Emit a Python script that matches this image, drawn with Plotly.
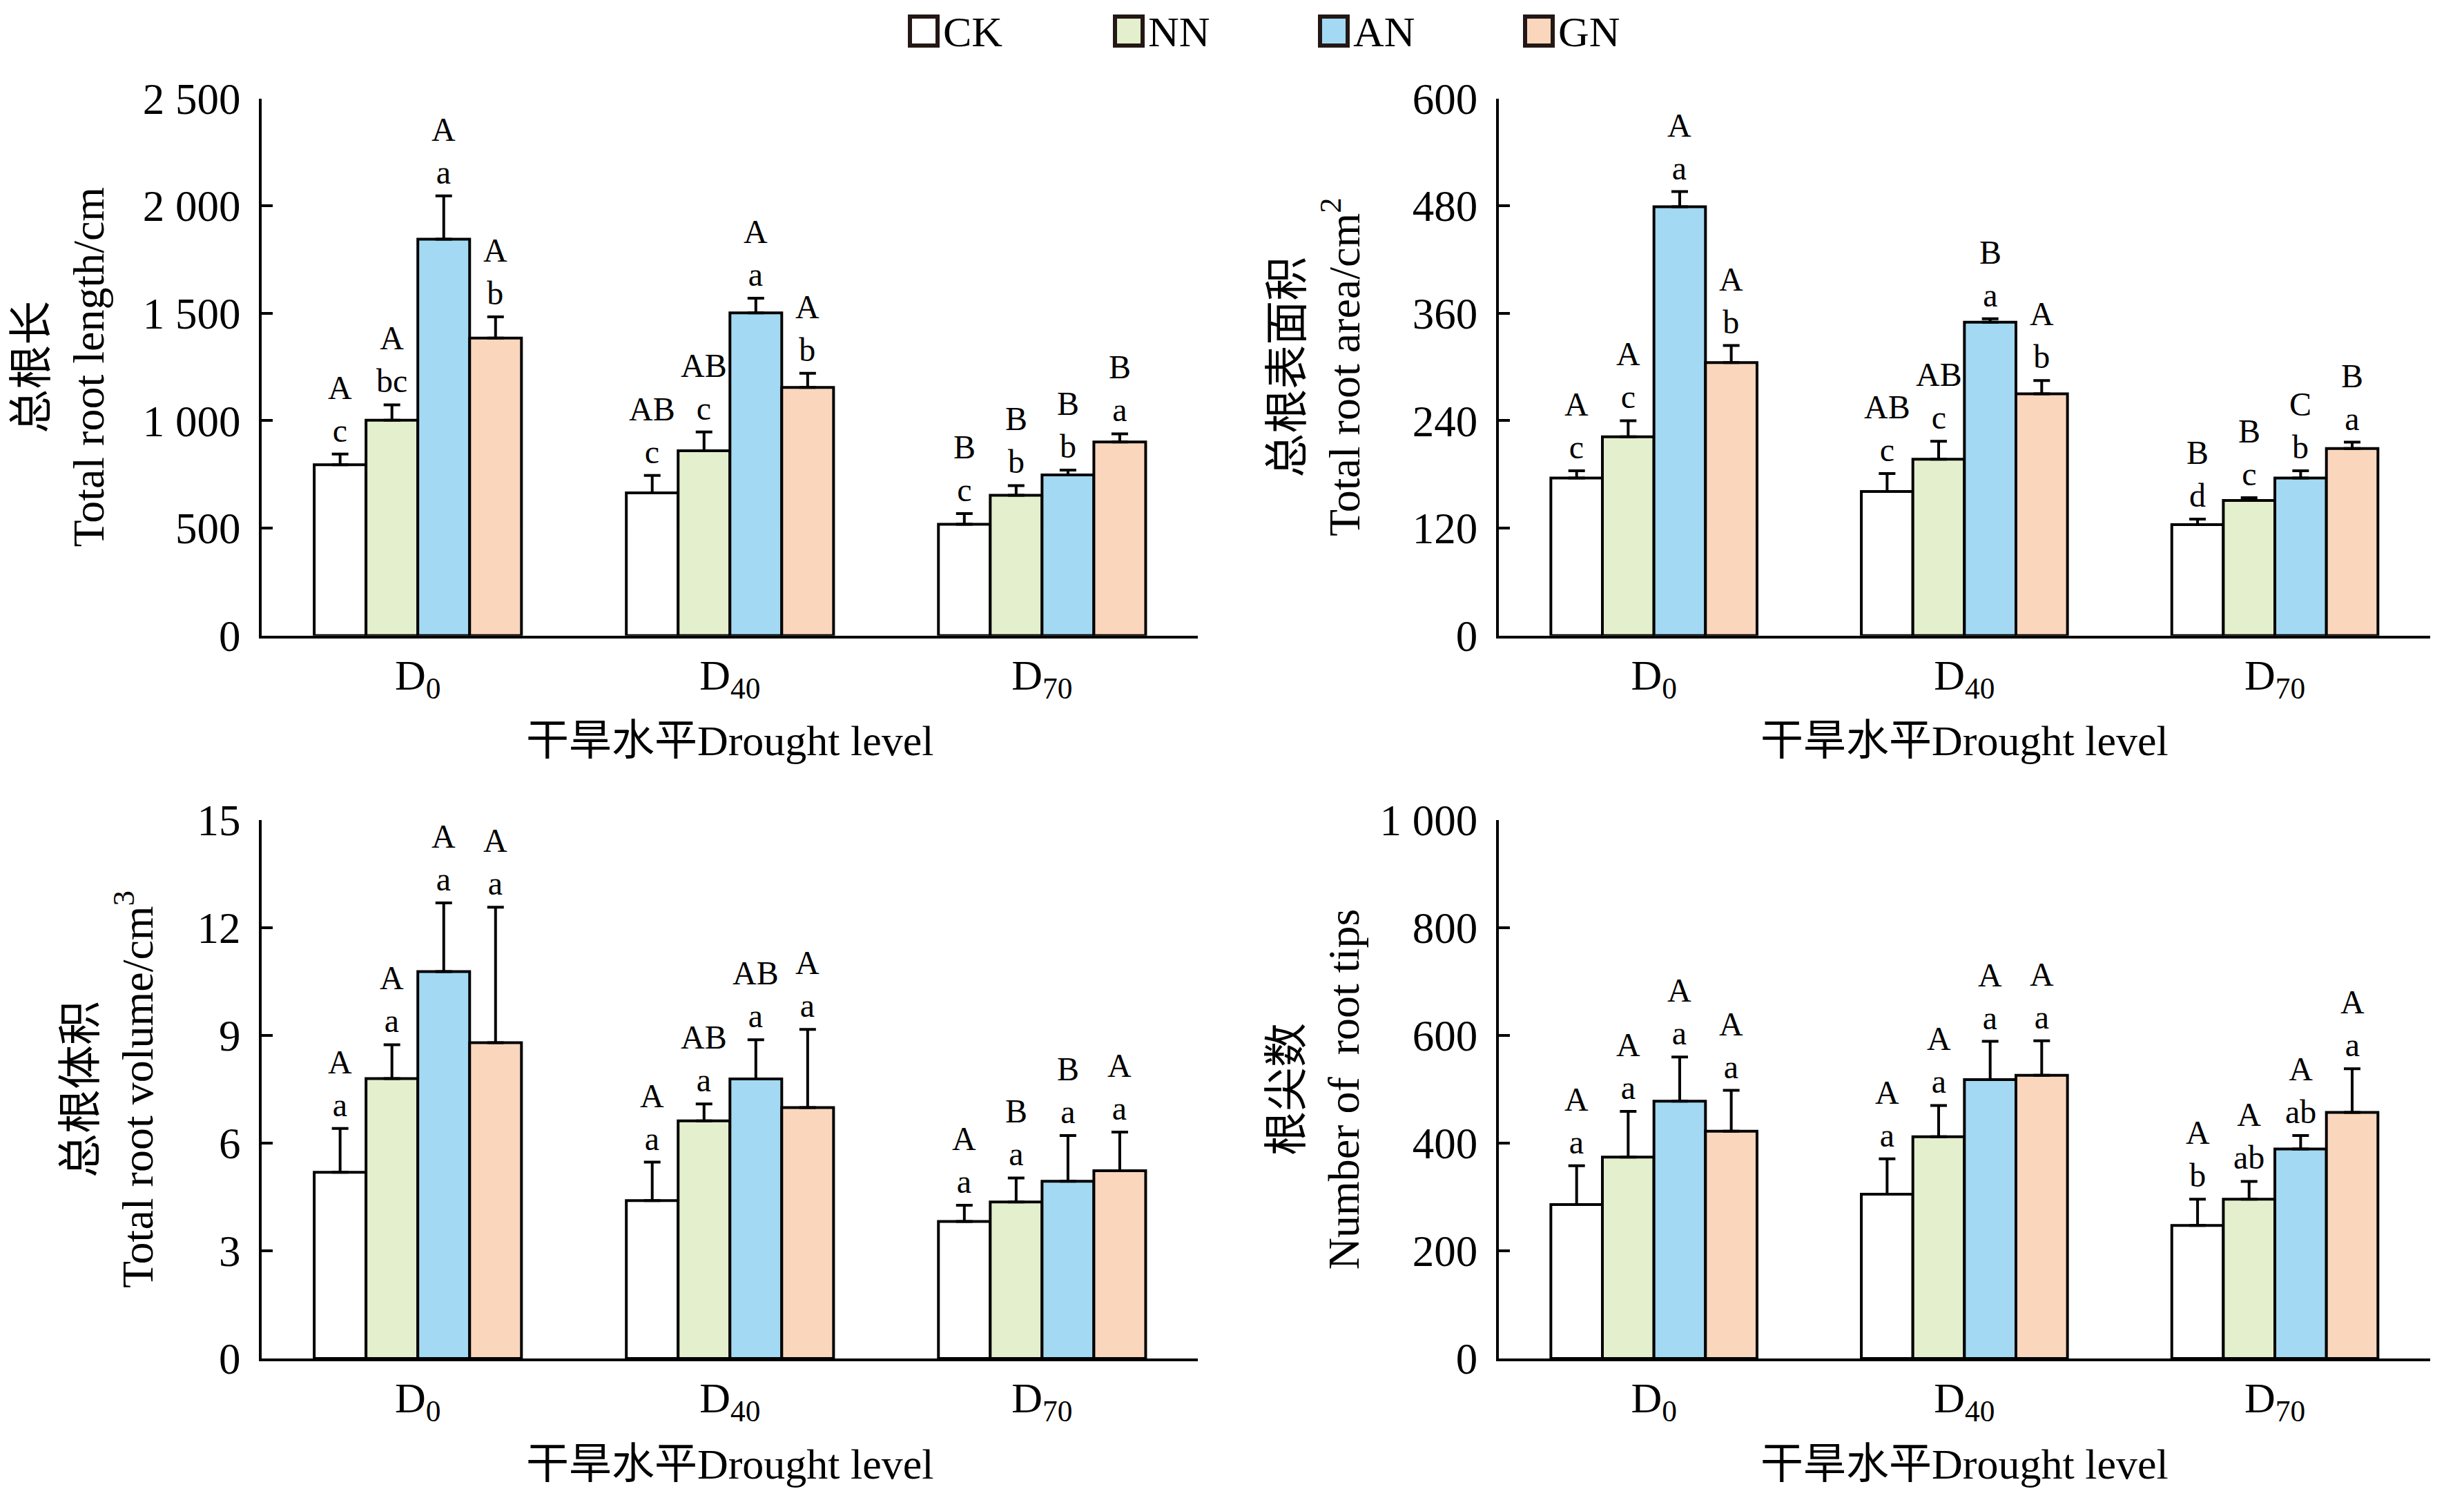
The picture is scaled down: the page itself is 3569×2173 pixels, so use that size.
import plotly.graph_objects as go
from plotly.subplots import make_subplots

# treatments and drought levels
groups = ["CK", "NN", "AN", "GN"]
levels = ["D<sub>0</sub>", "D<sub>40</sub>", "D<sub>70</sub>"]
colors = ["#ffffff", "#e4efcd", "#a3d9f3", "#fad6bd"]

# total root length (cm), rows = CK, NN, AN, GN
length_mean = [[795, 664, 518], [1002, 860, 653], [1845, 1502, 748], [1385, 1155, 901]]
length_se = [[50, 81, 50], [72, 88, 45], [202, 68, 22], [99, 66, 38]]
length_letters = [[("A", "c"), ("AB", "c"), ("B", "c")],
                  [("A", "bc"), ("AB", "c"), ("B", "b")],
                  [("A", "a"), ("A", "a"), ("B", "b")],
                  [("A", "b"), ("A", "b"), ("B", "a")]]

# total root surface area (cm2)
area_mean = [[176, 161, 124], [222, 197, 151], [479, 350, 176], [305, 270, 209]]
area_se = [[8, 20, 6], [18, 20, 3], [17, 4, 8], [19, 15, 7]]
area_letters = [[("A", "c"), ("AB", "c"), ("B", "d")],
                [("A", "c"), ("AB", "c"), ("B", "c")],
                [("A", "a"), ("B", "a"), ("C", "b")],
                [("A", "b"), ("A", "b"), ("B", "a")]]

# total root volume (cm3)
volume_mean = [[5.19, 4.40, 3.82], [7.80, 6.62, 4.36], [10.78, 7.79, 4.94], [8.80, 6.99, 5.23]]
volume_se = [[1.22, 1.07, 0.45], [0.94, 0.47, 0.67], [1.91, 1.09, 1.27], [3.77, 2.18, 1.08]]
volume_letters = [[("A", "a"), ("A", "a"), ("A", "a")],
                  [("A", "a"), ("AB", "a"), ("B", "a")],
                  [("A", "a"), ("AB", "a"), ("B", "a")],
                  [("A", "a"), ("A", "a"), ("A", "a")]]

# number of root tips
tips_mean = [[286, 305, 247], [374, 412, 296], [478, 518, 389], [422, 526, 457]]
tips_se = [[72, 66, 49], [85, 58, 33], [82, 71, 25], [76, 64, 81]]
tips_letters = [[("A", "a"), ("A", "a"), ("A", "b")],
                [("A", "a"), ("A", "a"), ("A", "ab")],
                [("A", "a"), ("A", "a"), ("A", "ab")],
                [("A", "a"), ("A", "a"), ("A", "a")]]

# (row, col, means, se, letters, y title, tick values, tick labels, title standoff)
panels = [
    (1, 1, length_mean, length_se, length_letters, "总根长<br>Total root length/cm",
     [0, 500, 1000, 1500, 2000, 2500], ["0", "500", "1 000", "1 500", "2 000", "2 500"], 36),
    (1, 2, area_mean, area_se, area_letters, "总根表面积<br>Total root area/cm<sup>2</sup>",
     [0, 120, 240, 360, 480, 600], ["0", "120", "240", "360", "480", "600"], 56),
    (2, 1, volume_mean, volume_se, volume_letters, "总根体积<br>Total root volume/cm<sup>3</sup>",
     [0, 3, 6, 9, 12, 15], ["0", "3", "6", "9", "12", "15"], 44),
    (2, 2, tips_mean, tips_se, tips_letters, "根尖数<br>Number of  root tips",
     [0, 200, 400, 600, 800, 1000], ["0", "200", "400", "600", "800", "1 000"], 10),
]

FONT = "Liberation Serif, Times New Roman, Noto Sans CJK SC, serif"
BARGAP = 0.336

fig = make_subplots(rows=2, cols=2)

annotations = []
for idx, (r, c, means, ses, letters, ytitle, tvals, ttext, standoff) in enumerate(panels):
    n = idx + 1
    xref = "x" if n == 1 else f"x{n}"
    yref = "y" if n == 1 else f"y{n}"
    for j, g in enumerate(groups):
        fig.add_trace(go.Bar(
            x=levels, y=means[j], name=g, showlegend=False,
            marker=dict(color=colors[j], line=dict(color="black", width=4)),
            error_y=dict(type="data", symmetric=False, array=ses[j], arrayminus=[0, 0, 0],
                         color="black", thickness=4, width=12),
        ), row=r, col=c)
        bw = (1 - BARGAP) / len(groups)
        for i in range(len(levels)):
            up, low = letters[j][i]
            annotations.append(dict(
                x=i + (j - 1.5) * bw, y=means[j][i] + ses[j][i], xref=xref, yref=yref,
                text=f"{up}<br>{low}", showarrow=False, yanchor="bottom", yshift=6,
                font=dict(size=48, family=FONT, color="black"),
            ))
    fig.update_yaxes(row=r, col=c, range=[0, tvals[-1]], tickvals=tvals, ticktext=ttext,
                     ticks="inside", ticklen=16, tickwidth=4, tickcolor="black",
                     showline=True, linecolor="black", linewidth=4, showgrid=False,
                     zeroline=False, ticklabelstandoff=14, automargin=False,
                     tickfont=dict(size=63, family=FONT, color="black"),
                     title=dict(text=ytitle, standoff=standoff,
                                font=dict(size=64, family=FONT, color="black")))
    fig.update_xaxes(row=r, col=c, range=[-0.5, 2.5], ticks="", showline=True,
                     linecolor="black", linewidth=4, showgrid=False, ticklabelstandoff=0,
                     automargin=False,
                     tickfont=dict(size=62, family=FONT, color="black"),
                     title=dict(text="干旱水平Drought level", standoff=32,
                                font=dict(size=62, family=FONT, color="black")))

# panel placement
fig.update_layout(
    xaxis=dict(domain=[0.104, 0.484]), xaxis2=dict(domain=[0.606, 0.984]),
    xaxis3=dict(domain=[0.104, 0.484]), xaxis4=dict(domain=[0.606, 0.984]),
    yaxis=dict(domain=[0.580, 0.938]), yaxis2=dict(domain=[0.580, 0.938]),
    yaxis3=dict(domain=[0.098, 0.457]), yaxis4=dict(domain=[0.098, 0.457]),
)

# legend drawn as boxes at the top
shapes = []
for j, g in enumerate(groups):
    x0 = (1310 + j * 297) / 3569
    shapes.append(dict(type="rect", xref="paper", yref="paper",
                       x0=x0, x1=x0 + 40 / 3569, y0=1 - 58 / 2173, y1=1 - 16 / 2173,
                       fillcolor=colors[j], line=dict(color="#231815", width=6)))
    annotations.append(dict(x=x0 + 46 / 3569, y=1 - 38 / 2173, xref="paper", yref="paper",
                            text=g, showarrow=False, xanchor="left", yanchor="middle",
                            font=dict(size=62, family=FONT, color="black")))

fig.update_layout(
    width=3569, height=2173, margin=dict(l=0, r=0, t=0, b=0, autoexpand=False),
    plot_bgcolor="white", paper_bgcolor="white",
    barmode="group", bargap=BARGAP, bargroupgap=0,
    annotations=annotations, shapes=shapes,
    font=dict(family=FONT, color="black"),
)

fig.write_html("out.html")
